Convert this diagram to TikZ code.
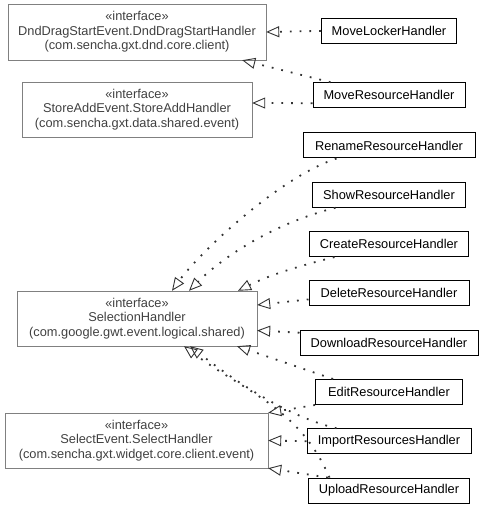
\documentclass[tikz,border=0pt]{standalone}
\usepackage{fontspec}
\setmainfont{Liberation Sans}
\usepackage{tikz}
\usetikzlibrary{arrows.meta, positioning}
\tikzstyle{iface} = [rectangle, draw=black!50, text=black!75, align=center, inner sep=0pt, font=\fontsize{12.8}{14.5}\selectfont]
\tikzstyle{impl} = [rectangle, minimum height=25pt, inner sep=0pt, text centered, draw=black, line width=1pt, font=\fontsize{12.8}{15}\selectfont]
\tikzstyle{arrow} = [black!80, line width=1.8pt, dash pattern=on 1.8pt off 8pt, -{Triangle[open, length=13pt, width=11pt, line width=0.9pt]}]

\begin{document}
\begin{tikzpicture}[x=1pt, y=1pt, node distance=49.3pt]
		\useasboundingbox (0,0) rectangle (483,508);
		% interfaces
		\node (dnd_handler) [iface, minimum width=258pt, minimum height=56pt] at (137,476) {«interface»\\DndDragStartEvent.DndDragStartHandler\\(com.sencha.gxt.dnd.core.client)};
		\node (store_add_handler) [iface, minimum width=230pt, minimum height=55pt] at (137,398.5) {«interface»\\StoreAddEvent.StoreAddHandler\\(com.sencha.gxt.data.shared.event)};
		\node (selection_handler) [iface, minimum width=240pt, minimum height=55pt] at (137,189.5) {«interface»\\SelectionHandler\\(com.google.gwt.event.logical.shared)};
		\node (select_handler) [iface, minimum width=263pt, minimum height=55pt] at (136.5,67.5) {«interface»\\SelectEvent.SelectHandler\\(com.sencha.gxt.widget.core.client.event)};
		% handlers
		\node (rename_resource) [impl, minimum width=172pt] at (389,362.5) {RenameResourceHandler};
		\node (show_resource) [impl, minimum width=153pt, below of=rename_resource] {ShowResourceHandler};
		\node (create_resource) [impl, minimum width=159pt, below of=show_resource] {CreateResourceHandler};
		\node (delete_resource) [impl, minimum width=160pt, below of=create_resource] {DeleteResourceHandler};
		\node (download_resource) [impl, minimum width=178pt, below of=delete_resource] {DownloadResourceHandler};
		\node (edit_resource) [impl, minimum width=147pt, below of=download_resource] {EditResourceHandler};
		\node (import_resources) [impl, minimum width=164pt, below of=edit_resource] {ImportResourcesHandler};
		\node (upload_resource) [impl, minimum width=161pt, below of=import_resources] {UploadResourceHandler};
		\node (move_resource) [impl, minimum width=152pt, above of=rename_resource, yshift=1pt] {MoveResourceHandler};
		\node (move_locker) [impl, minimum width=135pt, above of=move_resource, yshift=15pt] {MoveLockerHandler};
		% realizations
		\draw [arrow] (move_locker.west) -- (dnd_handler.east);
		\draw [arrow] ([xshift=18pt]move_resource.north west) -- ([xshift=-24pt]dnd_handler.south east);
		\draw [arrow] ([yshift=-8pt]move_resource.west) -- ([yshift=6.5pt]store_add_handler.east);
		\draw [arrow] ([xshift=34pt]rename_resource.south west) .. controls +(-60,-20) and +(25,35) .. ([xshift=35pt]selection_handler.north);
		\draw [arrow] ([xshift=23.5pt]show_resource.south west) .. controls +(-60,-15) and +(35,35) .. ([xshift=52pt]selection_handler.north);
		\draw [arrow] ([xshift=25.5pt]create_resource.south west) .. controls +(-40,-10) and +(30,15) .. ([xshift=101pt]selection_handler.north);
		\draw [arrow] ([yshift=-6pt]delete_resource.west) -- ([yshift=13.5pt]selection_handler.east);
		\draw [arrow] ([yshift=10pt]download_resource.west) -- ([yshift=-12pt]selection_handler.east);
		\draw [arrow] ([xshift=18pt]edit_resource.north west) -- ([xshift=100pt]selection_handler.south);
		\draw [arrow] (edit_resource.south west) -- (select_handler.north east);
		\draw [arrow] ([xshift=30pt]import_resources.north west) .. controls +(-50,12) and +(45,-35) .. ([xshift=53pt]selection_handler.south);
		\draw [arrow] (import_resources.west) -- (select_handler.east);
		\draw [arrow] ([xshift=21.5pt]upload_resource.north west) .. controls +(-30,70) and +(60,-45) .. ([xshift=47pt]selection_handler.south);
		\draw [arrow] ([xshift=20pt]upload_resource.north west) -- (select_handler.south east);
\end{tikzpicture}
\end{document}
